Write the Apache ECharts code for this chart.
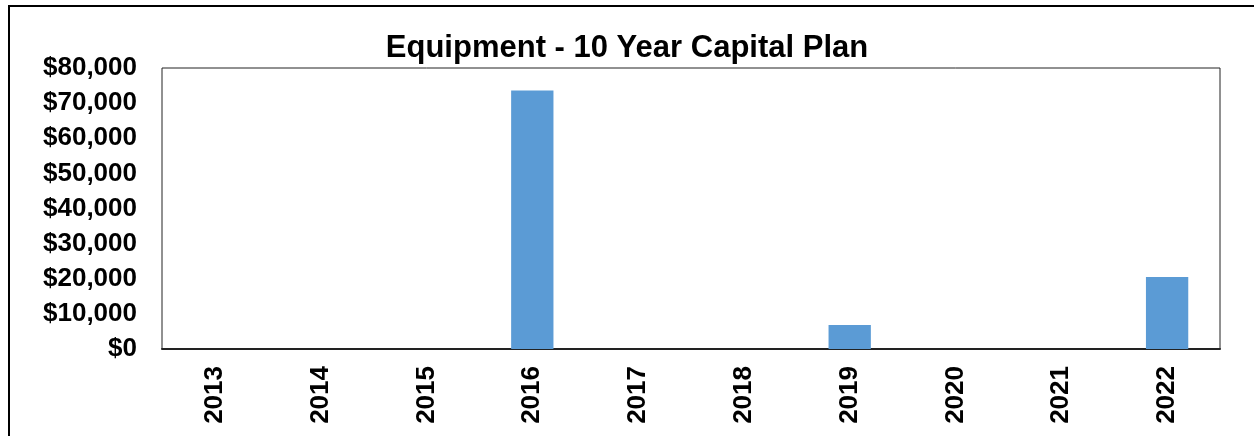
<!DOCTYPE html>
<html>
<head>
    <meta charset="utf-8">
    <title>Equipment - 10 Year Capital Plan</title>
    <script src="https://cdn.jsdelivr.net/npm/echarts@6/dist/echarts.min.js"></script>
    <style>
        html, body { margin: 0; padding: 0; background: #fff; }
    </style>
</head>
<body>
    <div id="main" style="width: 1254px;height:436px;"></div>
    <script type="text/javascript">
        // data
        var years = ['2013', '2014', '2015', '2016', '2017', '2018', '2019', '2020', '2021', '2022'];
        var amounts = [0, 0, 0, 73600, 0, 0, 6800, 0, 0, 20500];

        var myChart = echarts.init(document.getElementById('main'));

        var font = 'Liberation Sans, Arial, sans-serif';

        var option = {
            backgroundColor: '#fff',
            animation: false,
            title: {
                text: 'Equipment - 10 Year Capital Plan',
                left: 'center',
                top: 28,
                textStyle: {
                    fontFamily: font,
                    fontSize: 31,
                    fontWeight: 'bold',
                    color: '#000'
                }
            },
            graphic: [{
                type: 'rect',
                shape: { x: 9, y: 6, width: 1270, height: 460 },
                style: { fill: 'none', stroke: '#000', lineWidth: 2 },
                silent: true
            }],
            grid: {
                left: 162,
                top: 68,
                right: 34,
                bottom: 87,
                show: true,
                borderColor: '#222',
                borderWidth: 1
            },
            xAxis: {
                type: 'category',
                data: years,
                axisLine: { lineStyle: { color: '#222', width: 2 } },
                axisTick: { show: false },
                axisLabel: {
                    rotate: 90,
                    margin: 17,
                    fontFamily: font,
                    fontSize: 26,
                    fontWeight: 'bold',
                    color: '#000'
                }
            },
            yAxis: {
                type: 'value',
                min: 0,
                max: 80000,
                interval: 10000,
                axisLine: { show: false },
                axisTick: { show: false },
                splitLine: { show: false },
                axisLabel: {
                    margin: 25,
                    fontFamily: font,
                    fontSize: 26,
                    fontWeight: 'bold',
                    color: '#000',
                    formatter: function (v) {
                        return '$' + v.toLocaleString('en-US');
                    }
                }
            },
            series: [{
                name: 'Equipment',
                type: 'bar',
                data: amounts,
                barWidth: '40%',
                itemStyle: { color: '#5B9BD5' }
            }]
        };

        myChart.setOption(option);
    </script>
</body>
</html>
